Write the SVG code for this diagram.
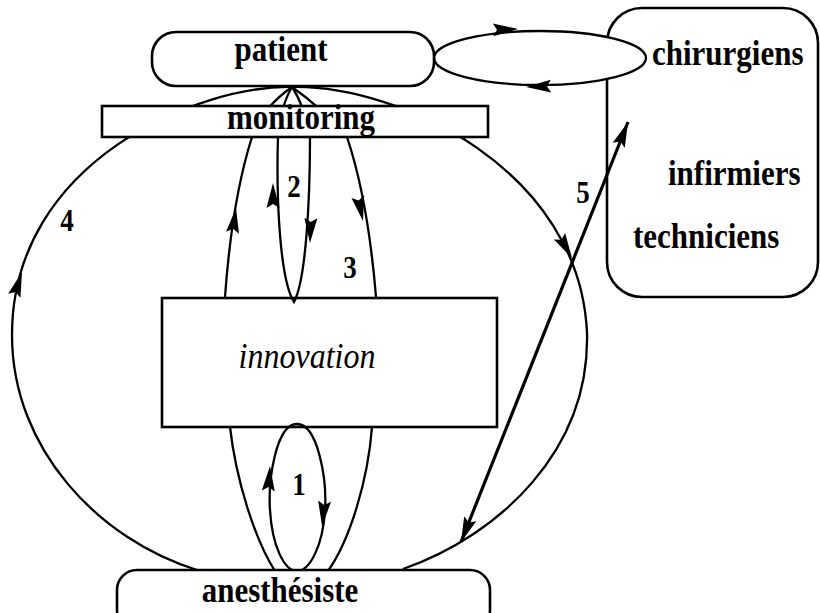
<svg xmlns="http://www.w3.org/2000/svg" xmlns:xlink="http://www.w3.org/1999/xlink" width="820" height="613" viewBox="0 0 820 613">
  <style>
    .box { fill: #fff; stroke: #000; stroke-width: 2.6; }
    .edge { fill: none; stroke: #000; stroke-width: 2.3; }
    .thick { fill: none; stroke: #000; stroke-width: 3.2; }
    .lbl { font-family: "Liberation Serif", "Times New Roman", serif; font-weight: bold; font-size: 31px; fill: #000; }
    .num { font-family: "Liberation Serif", "Times New Roman", serif; font-weight: bold; font-size: 27px; fill: #000; text-anchor: middle; }
    .ital { font-family: "Liberation Serif", "Times New Roman", serif; font-style: italic; font-size: 32px; fill: #000; }
  </style>
  <defs>
    <!-- arrowhead pointing along +x, tip at the origin -->
    <path id="head" d="M0,0 L-25,-6.5 L-21,0 L-25,6.5 Z" fill="#000"/>
  </defs>

  <rect width="820" height="613" fill="#fff"/>

  <!-- staff box on the right -->
  <g id="staff">
    <rect class="box" x="607" y="8" width="211" height="289" rx="35"/>
    <text class="lbl" transform="translate(668,185) scale(1,1.15)">infirmiers</text>
    <text class="lbl" transform="translate(633,248) scale(1,1.15)">techniciens</text>
  </g>

  <!-- exchange loop between patient and surgeons -->
  <g id="surgeons-loop">
    <ellipse class="box" cx="540" cy="58" rx="106" ry="27" style="stroke-width:2.3"/>
    <text class="lbl" transform="translate(652,65) scale(1,1.15)">chirurgiens</text>
  </g>

  <g id="innovation">
    <rect class="box" x="162" y="298" width="335" height="129"/>
    <text class="ital" text-anchor="middle" transform="translate(307,368) scale(1,1.15)">innovation</text>
  </g>

  <g id="connectors">
    <!-- loop 4: large circuit patient -> anesthesiste -->
    <path class="edge" d="M292,87 C200,85 12,160 12,335 C12,450 100,540 197,570"/>
    <path class="edge" d="M292,87 C400,85 580,170 587,333 C590,450 500,535 403,569"/>
    <!-- loop 3 -->
    <path class="edge" d="M292,87 Q262,108 252,137 Q232,200 225,297"/>
    <path class="edge" d="M292,87 Q322,108 347,137 Q368,200 376,297"/>
    <!-- loop 2 -->
    <path class="edge" d="M292,87 Q281,105 278,137 C276,200 280,280 294,302 C306,280 310,200 310,137 Q304,105 292,87"/>
    <!-- loop 1 -->
    <path class="edge" d="M297,424 C318,424 327,480 325,510 C323,545 310,571 297,571 C284,571 272,545 270,510 C268,480 276,424 297,424 Z"/>
    <path class="edge" d="M230,427 C236,480 255,540 275,571"/>
    <path class="edge" d="M372,427 C368,480 350,540 328,571"/>
    <!-- link 5 to the staff -->
    <line class="thick" x1="461" y1="542" x2="628" y2="122"/>

    <!-- arrowheads -->
    <use xlink:href="#head" transform="translate(22,272) rotate(-72)"/>
    <use xlink:href="#head" transform="translate(572,258) rotate(60)"/>
    <use xlink:href="#head" transform="translate(236,208) rotate(-82)"/>
    <use xlink:href="#head" transform="translate(363,221) rotate(78)"/>
    <use xlink:href="#head" transform="translate(273,183) rotate(-90)"/>
    <use xlink:href="#head" transform="translate(310,243) rotate(92)"/>
    <use xlink:href="#head" transform="translate(270,466) rotate(-86)"/>
    <use xlink:href="#head" transform="translate(322,526) rotate(96)"/>
    <use xlink:href="#head" transform="translate(518,29) rotate(-2)"/>
    <use xlink:href="#head" transform="translate(526,87) rotate(178)"/>
    <use xlink:href="#head" transform="translate(628,122) rotate(-68.3)"/>
    <use xlink:href="#head" transform="translate(461,542) rotate(111.7)"/>

    <!-- loop numbers -->
    <text class="num" transform="translate(299,495) scale(1,1.15)">1</text>
    <text class="num" transform="translate(294,197) scale(1,1.15)">2</text>
    <text class="num" transform="translate(350,278) scale(1,1.15)">3</text>
    <text class="num" transform="translate(67,231) scale(1,1.15)">4</text>
    <text class="num" transform="translate(583,203) scale(1,1.15)">5</text>
  </g>

  <g id="monitoring">
    <rect class="box" x="102" y="106" width="386" height="31"/>
    <text class="lbl" text-anchor="middle" transform="translate(301,129) scale(1,1.15)">monitoring</text>
  </g>

  <g id="patient">
    <rect class="box" x="152" y="32" width="282" height="54" rx="24"/>
    <text class="lbl" text-anchor="middle" transform="translate(281,61) scale(1,1.15)">patient</text>
  </g>

  <g id="anesthesiste">
    <rect class="box" x="117" y="570" width="373" height="60" rx="20"/>
    <text class="lbl" text-anchor="middle" transform="translate(280,602) scale(1,1.15)">anesthésiste</text>
  </g>
</svg>
